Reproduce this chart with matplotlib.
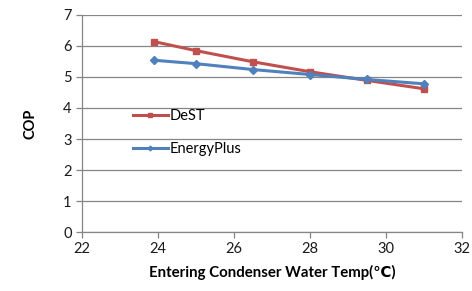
import matplotlib
matplotlib.use("Agg")
import matplotlib.pyplot as plt

plt.rcParams['font.family'] = ['Lato', 'DejaVu Sans']

temps = [23.9, 25.0, 26.5, 28.0, 29.5, 31.0]
dest = [6.14, 5.85, 5.49, 5.17, 4.89, 4.62]
eplus = [5.54, 5.43, 5.24, 5.08, 4.92, 4.78]
xticks = [22, 24, 26, 28, 30, 32]
yticks = [0, 1, 2, 3, 4, 5, 6, 7]

fig = plt.figure(figsize=(4.72, 2.91), dpi=100)
ax = fig.add_axes([0.1737, 0.2027, 0.805, 0.7458])

grid_c = '#868686'
ax.plot(temps, dest, color='#C0504D', lw=2.2, marker='s', ms=5, label='DeST', zorder=3)
ax.plot(temps, eplus, color='#4F81BD', lw=2.2, marker='D', ms=4, label='EnergyPlus', zorder=4)

ax.set_xlim(22, 32)
ax.set_ylim(0, 7)
ax.set_xticks(xticks)
ax.set_yticks(yticks)
ax.yaxis.grid(True, color=grid_c, lw=0.9)
ax.set_axisbelow(True)
for s in ['top', 'right']:
    ax.spines[s].set_visible(False)
for s in ['left', 'bottom']:
    ax.spines[s].set_color(grid_c)
    ax.spines[s].set_linewidth(0.9)
ax.tick_params(axis='both', colors=grid_c, labelcolor='#1a1a1a', labelsize=10.5, length=4, width=0.9)

ax.set_xlabel('Entering Condenser Water Temp(℃)', fontsize=10.8, fontweight='bold', labelpad=6)
ax.set_ylabel('COP', fontsize=10.5, fontweight='bold', labelpad=18)

leg = ax.legend(loc='upper left', bbox_to_anchor=(0.115, 0.6), frameon=False,
                fontsize=10.5, handlelength=2.4, handletextpad=0.1, labelspacing=1.3,
                markerscale=0.6, borderpad=0)

fig.savefig('out.png', dpi=100)
